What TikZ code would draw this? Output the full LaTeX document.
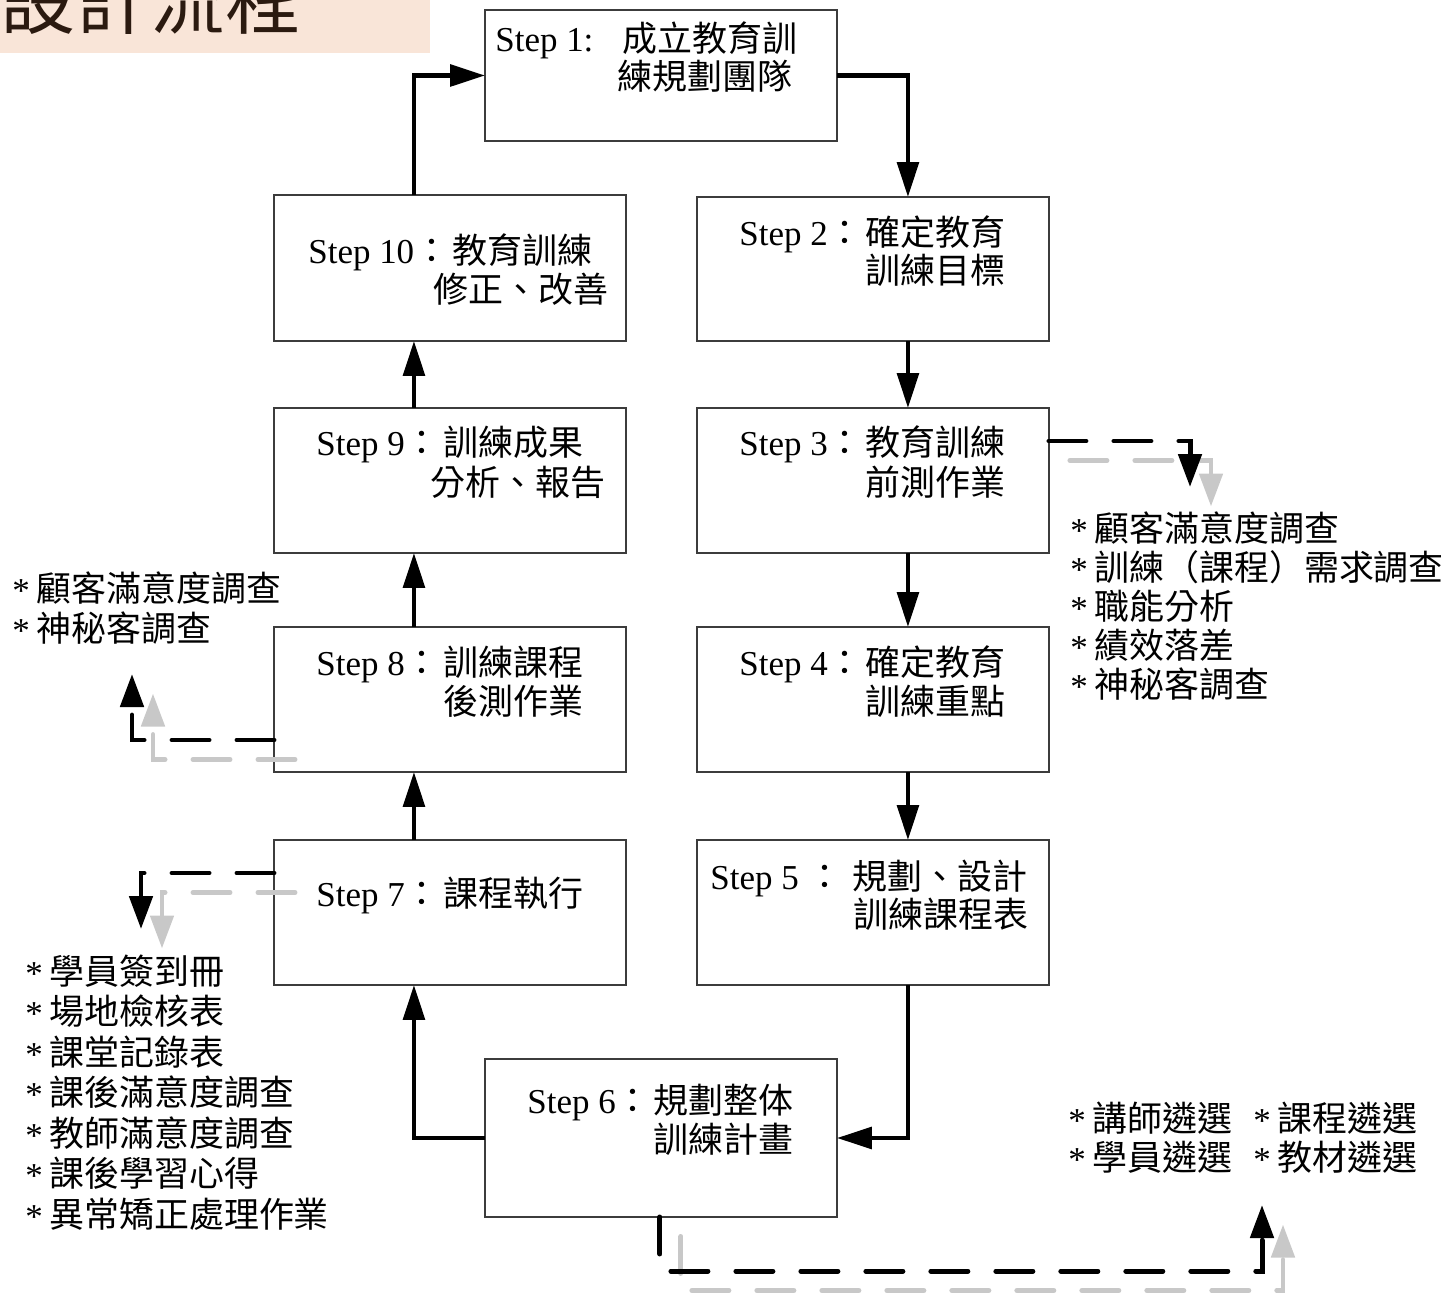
\documentclass[tikz,border=0pt]{standalone}
\usepackage{fontspec}
\setmainfont{Liberation Serif}
\newfontfamily\cjk{Noto Sans CJK TC}
\usetikzlibrary{arrows.meta}
\definecolor{titlebg}{HTML}{F9E5D8}
\definecolor{titleink}{HTML}{2B1A10}
\definecolor{shade}{HTML}{C8C8C8}
\definecolor{framegray}{HTML}{3C3C3C}
% bullet star in a fixed-width box
\newcommand\bul{\makebox[13.6pt][l]{\raisebox{-0.04em}{*}}}
\tikzset{
  stepbox/.style={draw=framegray, line width=0.75pt, anchor=north west,
    inner sep=0pt, outer sep=0pt, minimum width=7.04cm, minimum height=2.9cm},
  txt/.style={anchor=base west, inner sep=0pt, font=\fontsize{19.9pt}{24pt}\selectfont},
  flow/.style={line width=2.55pt, -{Triangle[length=0.7cm,width=0.43cm]}},
  dashline/.style={line width=2.83pt, line cap=round, dash pattern=on 0.74cm off 0.56cm,
    -{Triangle[length=0.66cm,width=0.46cm]}},
  shadowline/.style={dashline, draw=shade,
    transform canvas={xshift=0.42cm,yshift=-0.39cm}}
}
\begin{document}
\begin{tikzpicture}[x=0.02cm, y=-0.02cm]
\useasboundingbox (0,0) rectangle (1447,1296);
\clip (0,0) rectangle (1447,1296);

% title band
\fill[titlebg] (0,0) rectangle (430,53);
\node[anchor=base west, inner sep=0pt, text=titleink,
      font=\cjk\fontsize{42.7pt}{44pt}\selectfont] (title) at (0,28) {設計流程};

% step boxes
\node[stepbox, minimum height=2.62cm] (s1) at (485,10) {};
\node[stepbox, minimum height=2.88cm] (s2) at (697,197) {};
\node[stepbox] (s3) at (697,408) {};
\node[stepbox] (s4) at (697,627) {};
\node[stepbox] (s5) at (697,840) {};
\node[stepbox, minimum height=3.16cm] (s6) at (485,1059) {};
\node[stepbox] (s7) at (274,840) {};
\node[stepbox] (s8) at (274,627) {};
\node[stepbox] (s9) at (274,408) {};
\node[stepbox, minimum height=2.92cm] (s10) at (274,195) {};

% step texts
\node[txt] (s1a) at (495,51) {Step 1:};
\node[txt] (s1b) at (622,51) {\cjk 成立教育訓};
\node[txt] (s1c) at (617,89) {\cjk 練規劃團隊};

\node[txt] (s2a) at (739,245) {Step 2{\cjk ：}};
\node[txt] (s2b) at (865,245) {\cjk 確定教育};
\node[txt] (s2c) at (865,283) {\cjk 訓練目標};

\node[txt] (s3a) at (739,455) {Step 3{\cjk ：}};
\node[txt] (s3b) at (865,455) {\cjk 教育訓練};
\node[txt] (s3c) at (865,495) {\cjk 前測作業};

\node[txt] (s4a) at (739,675) {Step 4{\cjk ：}};
\node[txt] (s4b) at (865,675) {\cjk 確定教育};
\node[txt] (s4c) at (865,714) {\cjk 訓練重點};

\node[txt] (s5a) at (710,889) {Step 5 {\cjk ：}};
\node[txt] (s5b) at (852,889) {\cjk 規劃、設計};
\node[txt] (s5c) at (853,927) {\cjk 訓練課程表};

\node[txt] (s6a) at (527,1113) {Step 6{\cjk ：}};
\node[txt] (s6b) at (653,1113) {\cjk 規劃整体};
\node[txt] (s6c) at (653,1152) {\cjk 訓練計畫};

\node[txt] (s7a) at (316,906) {Step 7{\cjk ：}};
\node[txt] (s7b) at (443,906) {\cjk 課程執行};

\node[txt] (s8a) at (316,675) {Step 8{\cjk ：}};
\node[txt] (s8b) at (443,675) {\cjk 訓練課程};
\node[txt] (s8c) at (443,714) {\cjk 後測作業};

\node[txt] (s9a) at (316,455) {Step 9{\cjk ：}};
\node[txt] (s9b) at (443,455) {\cjk 訓練成果};
\node[txt] (s9c) at (430,495) {\cjk 分析、報告};

\node[txt] (s10a) at (308,263) {Step 10{\cjk ：}};
\node[txt] (s10b) at (452,263) {\cjk 教育訓練};
\node[txt] (s10c) at (433,302) {\cjk 修正、改善};

% main cycle
\draw[flow] ([xshift=-0.72cm]s10.north) |- (s1.west);
\draw[flow] (s1.east) -| ([xshift=0.7cm]s2.north);
\draw[flow] ([xshift=0.7cm]s2.south) -- ([xshift=0.7cm]s3.north);
\draw[flow] ([xshift=0.7cm]s3.south) -- ([xshift=0.7cm]s4.north);
\draw[flow] ([xshift=0.7cm]s4.south) -- ([xshift=0.7cm]s5.north);
\draw[flow] ([xshift=0.7cm]s5.south) |- (s6.east);
\draw[flow] (s6.west) -| ([xshift=-0.72cm]s7.south);
\draw[flow] ([xshift=-0.72cm]s7.north) -- ([xshift=-0.72cm]s8.south);
\draw[flow] ([xshift=-0.72cm]s8.north) -- ([xshift=-0.72cm]s9.south);
\draw[flow] ([xshift=-0.72cm]s9.north) -- ([xshift=-0.72cm]s10.south);

% free ends of the side links
\coordinate (t3) at (1190,487);
\coordinate (t8) at (132,674);
\coordinate (t7) at (141,929);
\coordinate (k6) at (1262,1271);
\coordinate (t6) at (1262,1205);

% side links: grey shadow first, black on top
\draw[shadowline] ([yshift=-0.66cm]s3.north east) -| (t3);
\draw[shadowline] ([yshift=-2.26cm]s8.north west) -| (t8);
\draw[shadowline] ([yshift=-0.66cm]s7.north west) -| (t7);
\draw[shadowline] ([xshift=3.5cm]s6.south west) |- (k6) -- (t6);

\draw[dashline] ([yshift=-0.66cm]s3.north east) -| (t3);
\draw[dashline] ([yshift=-2.26cm]s8.north west) -| (t8);
\draw[dashline] ([yshift=-0.66cm]s7.north west) -| (t7);
\draw[dashline] ([xshift=3.5cm]s6.south west) |- (k6) -- (t6);

% notes beside step 3
\node[txt] (n3a) at (1070,541) {\bul{\cjk 顧客滿意度調查}};
\node[txt] (n3b) at (1070,580) {\bul{\cjk 訓練（課程）需求調查}};
\node[txt] (n3c) at (1070,619) {\bul{\cjk 職能分析}};
\node[txt] (n3d) at (1070,658) {\bul{\cjk 績效落差}};
\node[txt] (n3e) at (1070,697) {\bul{\cjk 神秘客調查}};

% notes beside step 8
\node[txt] (n8a) at (12,601) {\bul{\cjk 顧客滿意度調查}};
\node[txt] (n8b) at (12,641) {\bul{\cjk 神秘客調查}};

% notes beside step 7
\node[txt] (n7a) at (25,984) {\bul{\cjk 學員簽到冊}};
\node[txt] (n7b) at (25,1024.5) {\bul{\cjk 場地檢核表}};
\node[txt] (n7c) at (25,1065) {\bul{\cjk 課堂記錄表}};
\node[txt] (n7d) at (25,1105.5) {\bul{\cjk 課後滿意度調查}};
\node[txt] (n7e) at (25,1146) {\bul{\cjk 教師滿意度調查}};
\node[txt] (n7f) at (25,1186.5) {\bul{\cjk 課後學習心得}};
\node[txt] (n7g) at (25,1227) {\bul{\cjk 異常矯正處理作業}};

% notes beside step 6
\node[txt] (n6a) at (1068,1131) {\bul{\cjk 講師遴選}};
\node[txt] (n6b) at (1253,1131) {\bul{\cjk 課程遴選}};
\node[txt] (n6c) at (1068,1170) {\bul{\cjk 學員遴選}};
\node[txt] (n6d) at (1253,1170) {\bul{\cjk 教材遴選}};
\end{tikzpicture}
\end{document}
